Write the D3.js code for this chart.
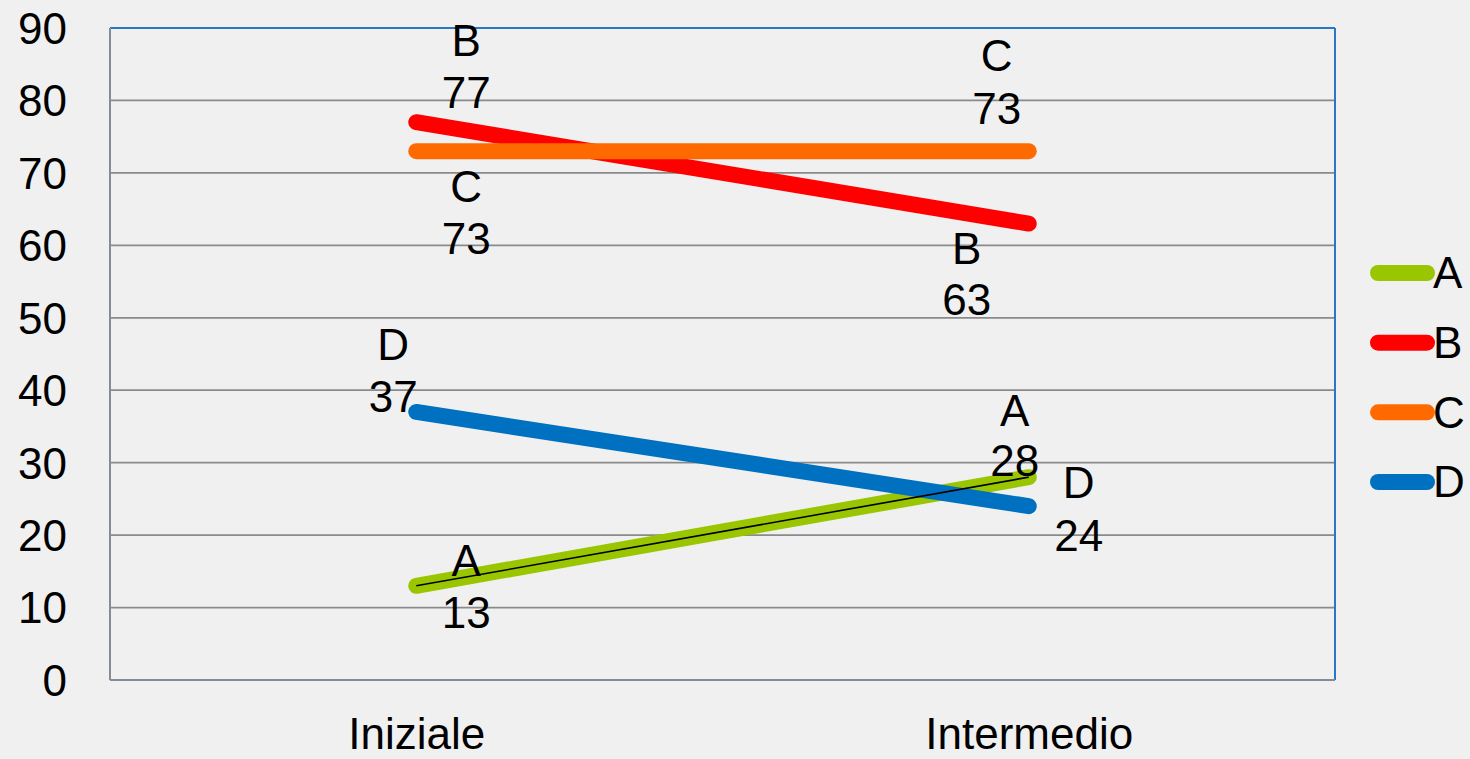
<!DOCTYPE html>
<html>
<head>
<meta charset="utf-8">
<script src="https://cdn.jsdelivr.net/npm/d3@7"></script>
<style>
  html, body { margin: 0; padding: 0; background: #f0f0f0; }
  svg { display: block; }
  text { font-family: "Liberation Sans", Arial, sans-serif; fill: #000; }
</style>
</head>
<body>
<svg id="chart" width="1470" height="759"></svg>
<script>
// Periods on the x axis
const categories = ["Iniziale", "Intermedio"];
// Series names and their values for each period
const seriesNames = ["A", "B", "C", "D"];
const valuesA = [13, 28];
const valuesB = [77, 63];
const valuesC = [73, 73];
const valuesD = [37, 24];
const yTicks = [0, 10, 20, 30, 40, 50, 60, 70, 80, 90];

const colors = { A: "#99c600", B: "#ff0000", C: "#ff6a00", D: "#0070c0" };

// Hand-placed data label offsets [dx, dyName, dyValue] per series and period
const labelOffsets = {
  A: [[50, -25, 27], [-14, -67, -17]],
  B: [[50, -82, -30], [-62, 25, 76]],
  C: [[50, 35, 87], [-32, -96, -43]],
  D: [[-23, -67, -15], [50, -24, 29]]
};

const series = [
  { name: "A", values: valuesA },
  { name: "B", values: valuesB },
  { name: "C", values: valuesC },
  { name: "D", values: valuesD }
];

const svg = d3.select("#chart");
const plotLeft = 110, plotRight = 1335, plotTop = 28, plotBottom = 680;

const x = d3.scalePoint().domain(categories).range([plotLeft, plotRight]).padding(0.5);
const y = d3.scaleLinear().domain([0, 90]).range([plotBottom, plotTop]);

// Gridlines
svg.append("g")
  .selectAll("line")
  .data(yTicks.filter(t => t > 0 && t < 90))
  .join("line")
  .attr("x1", plotLeft).attr("x2", plotRight)
  .attr("y1", d => y(d)).attr("y2", d => y(d))
  .attr("stroke", "#8a8a8a").attr("stroke-width", 1.8);

// Plot frame: blue top/right, grey axes
svg.append("line").attr("x1", plotLeft).attr("x2", plotRight).attr("y1", plotTop).attr("y2", plotTop)
  .attr("stroke", "#2a78c4").attr("stroke-width", 2);
svg.append("line").attr("x1", plotRight).attr("x2", plotRight).attr("y1", plotTop).attr("y2", plotBottom)
  .attr("stroke", "#2a78c4").attr("stroke-width", 2);
svg.append("line").attr("x1", plotLeft).attr("x2", plotRight).attr("y1", plotBottom).attr("y2", plotBottom)
  .attr("stroke", "#858c94").attr("stroke-width", 2);
svg.append("line").attr("x1", plotLeft).attr("x2", plotLeft).attr("y1", plotTop).attr("y2", plotBottom)
  .attr("stroke", "#858c94").attr("stroke-width", 2);

// Y axis labels
const yAxis = d3.axisLeft(y).tickValues(yTicks).tickSize(0).tickPadding(0);
const yg = svg.append("g").attr("transform", `translate(${67},0)`).call(yAxis);
yg.select(".domain").remove();
yg.selectAll("text")
  .attr("font-size", 44)
  .attr("font-family", "Liberation Sans, Arial, sans-serif")
  .attr("fill", "#000")
  .attr("dy", "0.35em");

// X axis labels
const xAxis = d3.axisBottom(x).tickSize(0).tickPadding(0);
const xg = svg.append("g").attr("transform", `translate(0,${749})`).call(xAxis);
xg.select(".domain").remove();
xg.selectAll("text")
  .attr("font-size", 44)
  .attr("font-family", "Liberation Sans, Arial, sans-serif")
  .attr("fill", "#000")
  .attr("dy", 0)
  .attr("y", 0);

// Series lines
const line = d3.line()
  .x((d, i) => x(categories[i]))
  .y(d => y(d));

svg.append("g")
  .selectAll("path")
  .data(series)
  .join("path")
  .attr("d", d => line(d.values))
  .attr("fill", "none")
  .attr("stroke", d => colors[d.name])
  .attr("stroke-width", 16)
  .attr("stroke-linecap", "round");

// Linear trend line over series A
svg.append("path")
  .attr("d", line(valuesA))
  .attr("fill", "none")
  .attr("stroke", "#000")
  .attr("stroke-width", 1.6);

// Data labels: series name above value
const labels = svg.append("g");
series.forEach(s => {
  s.values.forEach((v, i) => {
    const [dx, dyName, dyVal] = labelOffsets[s.name][i];
    const cx = x(categories[i]) + dx;
    const cy = y(v);
    labels.append("text")
      .attr("x", cx).attr("y", cy + dyName)
      .attr("dy", "0.35em")
      .attr("text-anchor", "middle")
      .attr("font-size", 44)
      .text(s.name);
    labels.append("text")
      .attr("x", cx).attr("y", cy + dyVal)
      .attr("dy", "0.35em")
      .attr("text-anchor", "middle")
      .attr("font-size", 44)
      .text(v);
  });
});

// Legend
const legendY = d3.scalePoint().domain(seriesNames).range([273, 482]);
const legend = svg.append("g");
seriesNames.forEach(n => {
  legend.append("line")
    .attr("x1", 1378).attr("x2", 1427)
    .attr("y1", legendY(n)).attr("y2", legendY(n))
    .attr("stroke", colors[n]).attr("stroke-width", 16)
    .attr("stroke-linecap", "round");
  legend.append("text")
    .attr("x", 1433).attr("y", legendY(n))
    .attr("dy", "0.35em")
    .attr("font-size", 44)
    .text(n);
});
</script>
</body>
</html>
